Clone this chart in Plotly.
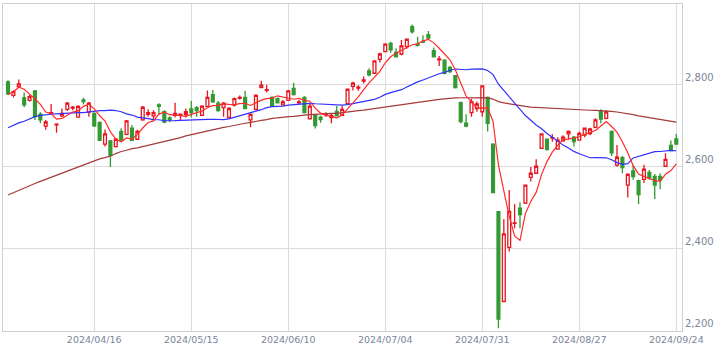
import numpy as np
import pandas as pd
import plotly.graph_objects as go

# ---- data ----
holidays = ["2024-04-29", "2024-05-03", "2024-05-06", "2024-07-15",
            "2024-08-12", "2024-09-16", "2024-09-23"]
dates = pd.bdate_range("2024-03-25", "2024-09-24", freq="C",
                       holidays=holidays).strftime("%Y/%m/%d").tolist()

tick_labels = ["2024/04/16", "2024/05/15", "2024/06/10", "2024/07/04",
               "2024/07/31", "2024/08/27", "2024/09/24"]

open_ = [2806, 2773, 2794, 2767, 2761, 2784, 2727, 2698, 2729, 2701,
         2723, 2739, 2742, 2720, 2762, 2732, 2729, 2707, 2654, 2662,
         2648, 2685, 2678, 2693, 2666, 2713, 2727, 2723, 2750, 2733,
         2718, 2724, 2725, 2727, 2740, 2743, 2724, 2746, 2775, 2754,
         2743, 2719, 2749, 2766, 2768, 2713, 2739, 2792, 2785, 2768,
         2765, 2750, 2761, 2790, 2755, 2768, 2716, 2724, 2720, 2726,
         2719, 2734, 2724, 2753, 2795, 2791, 2808, 2833, 2827, 2861,
         2880, 2900, 2878, 2874, 2892, 2941, 2898, 2905, 2921, 2882,
         2860, 2859, 2841, 2821, 2755, 2705, 2731, 2741, 2733, 2768,
         2654, 2489, 2270, 2402, 2461, 2498, 2510, 2573, 2583, 2644,
         2666, 2669, 2642, 2662, 2679, 2671, 2664, 2676, 2680, 2695,
         2736, 2717, 2685, 2603, 2621, 2554, 2589, 2565, 2568, 2585,
         2575, 2575, 2600, 2651, 2667]
high = [2810, 2785, 2812, 2780, 2775, 2786, 2732, 2713, 2752, 2705,
        2741, 2757, 2747, 2749, 2767, 2757, 2732, 2709, 2690, 2664,
        2669, 2693, 2713, 2701, 2689, 2747, 2739, 2737, 2754, 2737,
        2722, 2755, 2729, 2741, 2759, 2747, 2749, 2785, 2786, 2759,
        2757, 2744, 2768, 2773, 2784, 2729, 2776, 2809, 2799, 2771,
        2768, 2762, 2786, 2804, 2762, 2771, 2752, 2727, 2723, 2732,
        2729, 2747, 2747, 2789, 2806, 2798, 2819, 2839, 2859, 2877,
        2900, 2904, 2888, 2908, 2912, 2946, 2916, 2920, 2930, 2890,
        2869, 2861, 2845, 2823, 2758, 2727, 2765, 2758, 2798, 2770,
        2656, 2491, 2471, 2542, 2508, 2512, 2555, 2598, 2617, 2680,
        2668, 2678, 2671, 2676, 2687, 2674, 2685, 2694, 2694, 2717,
        2739, 2737, 2687, 2652, 2625, 2583, 2603, 2567, 2604, 2591,
        2581, 2583, 2632, 2663, 2679]
low = [2774, 2768, 2791, 2744, 2758, 2713, 2705, 2689, 2727, 2682,
       2720, 2735, 2737, 2719, 2751, 2721, 2697, 2662, 2648, 2598,
       2646, 2660, 2676, 2662, 2664, 2711, 2721, 2711, 2725, 2705,
       2708, 2719, 2713, 2719, 2719, 2721, 2723, 2744, 2755, 2733,
       2721, 2717, 2746, 2763, 2739, 2695, 2737, 2791, 2780, 2746,
       2753, 2749, 2759, 2773, 2752, 2729, 2715, 2692, 2706, 2721,
       2705, 2722, 2723, 2751, 2785, 2784, 2802, 2819, 2825, 2853,
       2879, 2877, 2866, 2871, 2887, 2924, 2892, 2900, 2910, 2866,
       2845, 2824, 2827, 2790, 2705, 2695, 2721, 2733, 2721, 2685,
       2534, 2205, 2269, 2392, 2449, 2449, 2508, 2563, 2581, 2642,
       2638, 2660, 2641, 2660, 2666, 2648, 2663, 2671, 2676, 2693,
       2705, 2715, 2625, 2599, 2583, 2524, 2567, 2508, 2559, 2567,
       2520, 2544, 2598, 2637, 2653]
close = [2777, 2782, 2801, 2750, 2770, 2721, 2713, 2708, 2731, 2703,
         2729, 2754, 2744, 2746, 2758, 2754, 2698, 2663, 2679, 2626,
         2666, 2664, 2711, 2663, 2685, 2744, 2731, 2731, 2746, 2708,
         2713, 2729, 2727, 2733, 2731, 2736, 2747, 2768, 2757, 2736,
         2754, 2741, 2765, 2768, 2741, 2727, 2773, 2798, 2787, 2747,
         2755, 2757, 2784, 2775, 2757, 2731, 2747, 2699, 2714, 2728,
         2724, 2723, 2739, 2788, 2803, 2793, 2811, 2823, 2857, 2874,
         2898, 2884, 2867, 2894, 2910, 2928, 2895, 2903, 2913, 2867,
         2862, 2827, 2831, 2792, 2709, 2698, 2758, 2752, 2796, 2705,
         2536, 2227, 2435, 2490, 2462, 2482, 2554, 2583, 2600, 2679,
         2641, 2670, 2664, 2671, 2685, 2660, 2680, 2693, 2691, 2713,
         2715, 2733, 2633, 2622, 2597, 2580, 2575, 2531, 2593, 2571,
         2554, 2567, 2617, 2638, 2654]

# moving-average values before enough closes are on the chart
ma5_head = [2775, 2782, 2793, 2788]
ma25_head = [2694, 2700, 2706, 2710, 2715, 2721, 2724, 2726, 2727, 2728,
             2729, 2730, 2730, 2731, 2731, 2733, 2734, 2736, 2736, 2737,
             2736, 2733, 2728, 2725]
ma75_head = [2530, 2536, 2541, 2547, 2552, 2558, 2563, 2568, 2573, 2579,
             2584, 2589, 2594, 2599, 2604, 2609, 2614, 2618, 2621, 2625,
             2631, 2636, 2639, 2643, 2645, 2648, 2651, 2654, 2658, 2661,
             2664, 2667, 2670, 2674, 2677, 2680, 2683, 2686, 2689, 2693,
             2695, 2697, 2700, 2703, 2705, 2707, 2710, 2712, 2714, 2717,
             2718, 2720, 2721, 2722, 2724, 2725, 2726, 2727, 2727, 2728,
             2729, 2729, 2731, 2732, 2734, 2736, 2737, 2739, 2741, 2743,
             2745, 2747, 2749, 2751]


def moving_average(values, n, head):
    s = pd.Series(values, dtype=float).rolling(n).mean().to_numpy()
    s[:len(head)] = head
    return s


ma5 = moving_average(close, 5, ma5_head)
ma25 = moving_average(close, 25, ma25_head)
ma75 = moving_average(close, 75, ma75_head)

UP = "#e8141e"
DOWN = "#339933"

fig = go.Figure()
fig.add_trace(go.Candlestick(
    x=dates, open=open_, high=high, low=low, close=close,
    increasing=dict(line=dict(color=UP, width=1.3), fillcolor="#ffffff"),
    decreasing=dict(line=dict(color=DOWN, width=1.3), fillcolor=DOWN),
    whiskerwidth=0, showlegend=False, hoverinfo="skip",
))
fig.add_trace(go.Scatter(x=dates, y=ma75, mode="lines",
                         line=dict(color="#a53a3a", width=1.2), showlegend=False))
fig.add_trace(go.Scatter(x=dates, y=ma25, mode="lines",
                         line=dict(color="#3030ff", width=1.2), showlegend=False))
fig.add_trace(go.Scatter(x=dates, y=ma5, mode="lines",
                         line=dict(color="#ff2a2a", width=1.2), showlegend=False))

fig.update_layout(
    width=722, height=354,
    margin=dict(l=3, r=40, t=4, b=23),
    paper_bgcolor="#ffffff", plot_bgcolor="#ffffff",
    boxgap=0.25,
    font=dict(family="DejaVu Sans", size=9.5, color="#7a8599"),
    xaxis=dict(
        type="category", range=[-0.93, 125.06],
        tickvals=tick_labels, ticktext=tick_labels,
        showgrid=True, gridcolor="#dcdcdc", gridwidth=1,
        showline=True, linecolor="#cfcfcf", mirror=True,
        ticks="", rangeslider=dict(visible=False),
        tickfont=dict(size=9.5, color="#7a8599"),
    ),
    yaxis=dict(
        side="right", range=[2198, 2996],
        tickvals=[2200, 2400, 2600, 2800], tickformat=",d",
        showgrid=True, gridcolor="#dcdcdc", gridwidth=1,
        showline=True, linecolor="#cfcfcf", mirror=True,
        ticks="", zeroline=False, ticklabelshift=-7,
        tickfont=dict(size=10, color="#7a8599"),
    ),
)

fig.write_html("out.html")
